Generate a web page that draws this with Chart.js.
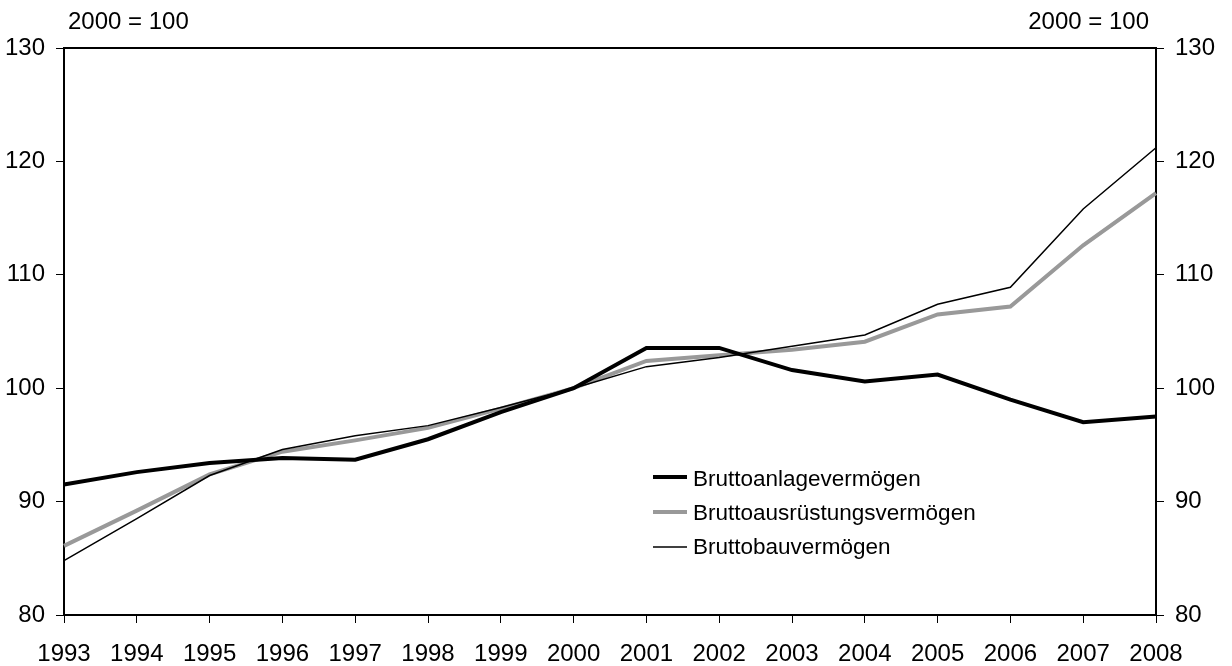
<!DOCTYPE html>
<html>
<head>
<meta charset="utf-8">
<script src="https://cdn.jsdelivr.net/npm/chart.js@4"></script>
<style>
  html, body { margin: 0; padding: 0; background: #fff; }
  #wrap { width: 1232px; height: 666px; position: relative; }
</style>
</head>
<body>
<div id="wrap"><canvas id="chart"></canvas></div>
<script>
const years = ['1993', '1994', '1995', '1996', '1997', '1998', '1999', '2000',
  '2001', '2002', '2003', '2004', '2005', '2006', '2007', '2008'];

const anlage = [91.5, 92.6, 93.4, 93.85, 93.7, 95.5, 97.9, 100.0,
  103.55, 103.55, 101.6, 100.6, 101.2, 99.0, 97.0, 97.5];
const ausruestung = [86.1, 89.2, 92.4, 94.4, 95.4, 96.5, 98.2, 100.0,
  102.4, 102.9, 103.4, 104.1, 106.5, 107.2, 112.6, 117.2];
const bau = [84.8, 88.5, 92.3, 94.6, 95.8, 96.7, 98.3, 100.0,
  101.9, 102.7, 103.7, 104.7, 107.4, 108.9, 115.8, 121.2];

const yTicks = [80, 90, 100, 110, 120, 130];
const unitLabel = '2000 = 100';

const FONT = 'Liberation Sans, Arial, sans-serif';

const framePlugin = {
  id: 'frame',
  afterDraw(chart) {
    const { ctx, chartArea: a } = chart;
    ctx.save();
    // top border of the plot box
    ctx.strokeStyle = '#000';
    ctx.lineWidth = 2;
    ctx.beginPath();
    ctx.moveTo(a.left - 1, a.top);
    ctx.lineTo(a.right + 1, a.top);
    ctx.stroke();

    // unit labels
    ctx.fillStyle = '#000';
    ctx.font = '24px ' + FONT;
    ctx.textBaseline = 'alphabetic';
    ctx.textAlign = 'left';
    ctx.fillText(unitLabel, 68, 29);
    ctx.textAlign = 'right';
    ctx.fillText(unitLabel, 1149, 29);

    // legend inside the plot
    const lineRows = [477, 512, 547];
    const textRows = [480, 514, 548];
    ctx.textAlign = 'left';
    ctx.textBaseline = 'middle';
    ctx.font = '22.5px ' + FONT;
    chart.data.datasets.forEach((ds, i) => {
      ctx.strokeStyle = ds.borderColor;
      ctx.lineWidth = ds.borderWidth;
      ctx.beginPath();
      ctx.moveTo(653, lineRows[i]);
      ctx.lineTo(687, lineRows[i]);
      ctx.stroke();
      ctx.fillStyle = '#000';
      ctx.fillText(ds.label, 693, textRows[i]);
    });
    ctx.restore();
  }
};

const tickFont = { family: FONT, size: 24 };

new Chart(document.getElementById('chart'), {
  type: 'line',
  data: {
    labels: years,
    datasets: [
      {
        label: 'Bruttoanlagevermögen',
        data: anlage,
        borderColor: '#000000',
        borderWidth: 4,
        order: 1
      },
      {
        label: 'Bruttoausrüstungsvermögen',
        data: ausruestung,
        borderColor: '#999999',
        borderWidth: 4,
        order: 2
      },
      {
        label: 'Bruttobauvermögen',
        data: bau,
        borderColor: '#000000',
        borderWidth: 1.5,
        order: 0
      }
    ]
  },
  options: {
    responsive: true,
    maintainAspectRatio: false,
    animation: false,
    layout: { padding: { top: 48, left: 0, right: 0, bottom: 0 } },
    elements: {
      point: { radius: 0 },
      line: { tension: 0, borderCapStyle: 'butt', borderJoinStyle: 'miter' }
    },
    plugins: {
      legend: { display: false },
      tooltip: { enabled: false }
    },
    scales: {
      x: {
        offset: false,
        grid: { drawOnChartArea: false, color: '#000', tickLength: 8, lineWidth: 1 },
        border: { color: '#000', width: 2 },
        ticks: { color: '#000', font: tickFont, padding: 17, maxRotation: 0, autoSkip: false },
        afterFit(scale) { scale.height = 51; }
      },
      y: {
        position: 'left',
        min: 80,
        max: 130,
        afterBuildTicks(scale) { scale.ticks = yTicks.map(v => ({ value: v })); },
        grid: { drawOnChartArea: false, color: '#000', tickLength: 8, lineWidth: 1 },
        border: { color: '#000', width: 2 },
        ticks: { color: '#000', font: tickFont, padding: 11 },
        afterFit(scale) { scale.width = 64; }
      },
      y1: {
        position: 'right',
        min: 80,
        max: 130,
        afterBuildTicks(scale) { scale.ticks = yTicks.map(v => ({ value: v })); },
        grid: { drawOnChartArea: false, color: '#000', tickLength: 8, lineWidth: 1 },
        border: { color: '#000', width: 2 },
        ticks: { color: '#000', font: tickFont, padding: 11 },
        afterFit(scale) { scale.width = 76; }
      }
    }
  },
  plugins: [framePlugin]
});
</script>
</body>
</html>
